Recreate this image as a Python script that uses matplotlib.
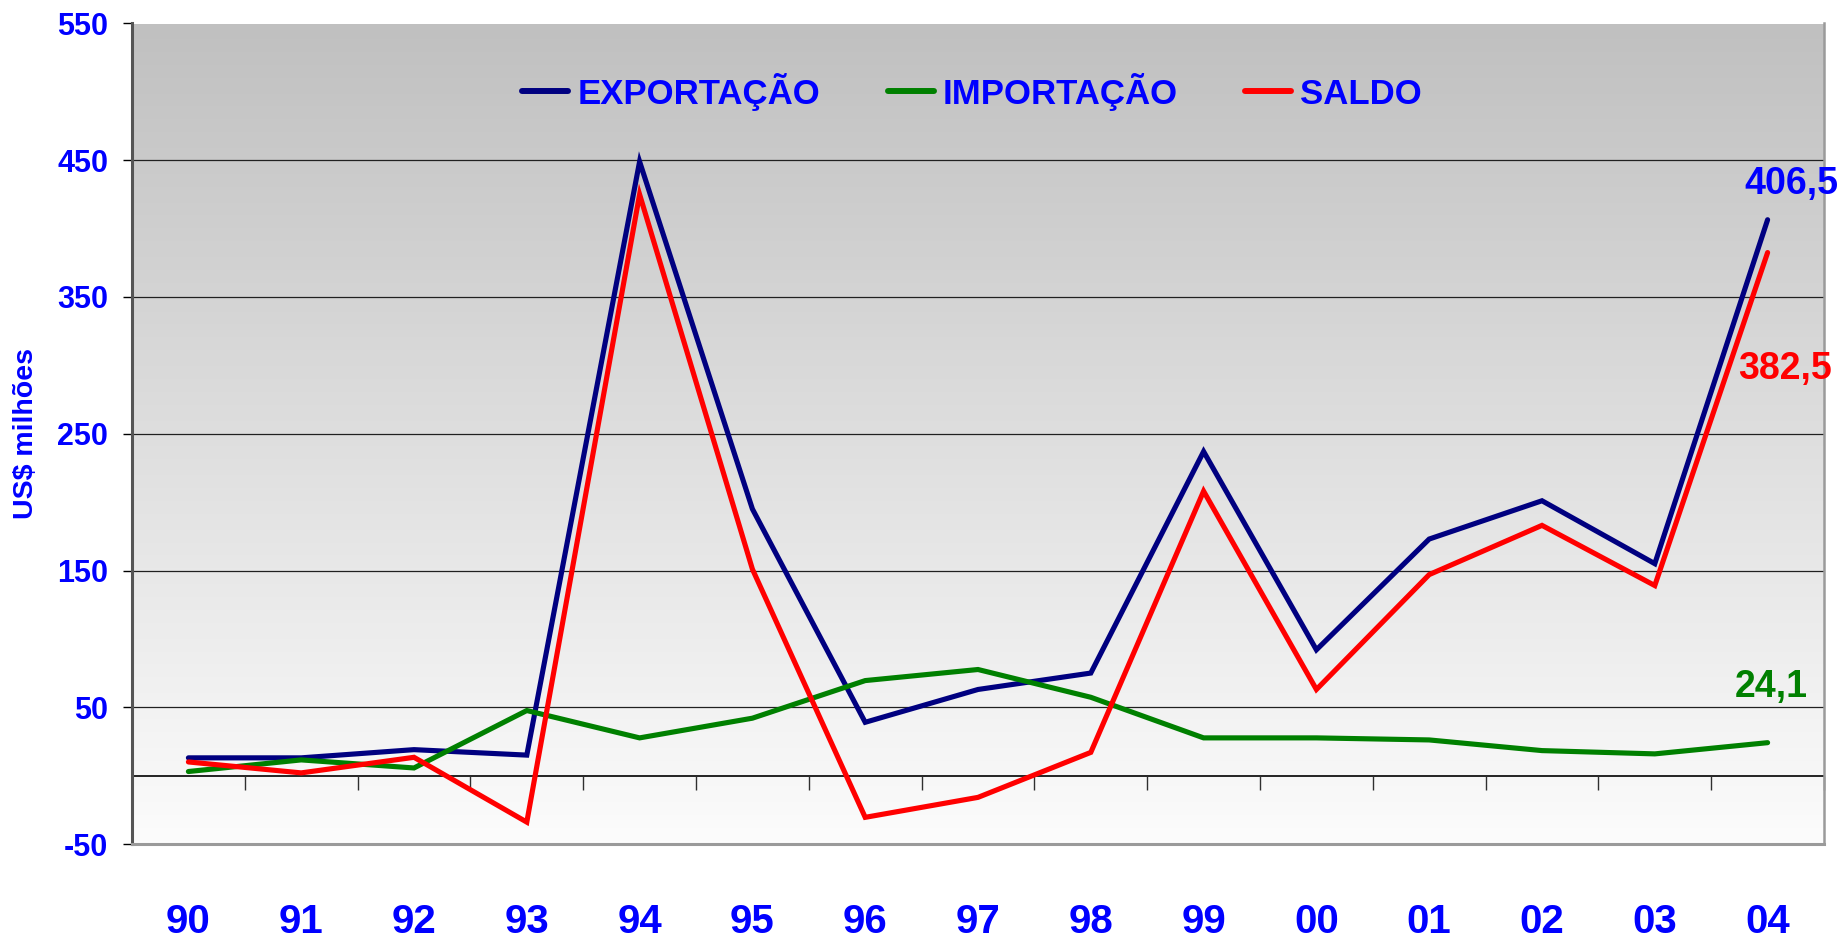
import numpy as np
import matplotlib
matplotlib.use("Agg")
import matplotlib.pyplot as plt
from matplotlib.transforms import blended_transform_factory

# ---- data ----
years = ["90", "91", "92", "93", "94", "95", "96", "97", "98", "99", "00", "01", "02", "03", "04"]
exportacao = [13, 13, 19, 15, 449, 195, 39, 63, 75, 237, 92, 173, 201, 155, 406.5]
importacao = [3, 11.5, 5.6, 47.6, 27.6, 42, 69.5, 77.6, 57.3, 27.6, 27.6, 26.1, 18.3, 15.9, 24.1]
saldo = [10, 2, 13.4, -34, 425, 151, -30.5, -15.9, 17, 208, 63, 147, 183, 139, 382.5]
series_names = ["EXPORTAÇÃO", "IMPORTAÇÃO", "SALDO"]
yticks = [-50, 50, 150, 250, 350, 450, 550]
last_labels = ["406,5", "24,1", "382,5"]

plt.rcParams['font.family'] = ['Liberation Sans', 'DejaVu Sans']

fig = plt.figure(figsize=(18.47, 9.42), dpi=100)
ax = fig.add_axes([132/1847, 1-844/942, (1824-132)/1847, (844-23.5)/942])

x = np.arange(len(years))
ax.set_xlim(-0.5, len(years) - 0.5)
ax.set_ylim(-50, 550)

# gradient background
grad = np.linspace(192, 252, 256)[:, None] / 255.0
img = np.dstack([grad, grad, grad])
ax.imshow(img, extent=[0, 1, 0, 1], transform=ax.transAxes, aspect='auto', zorder=0)

# grid lines
for v in yticks[1:-1]:
    ax.axhline(v, color='#202020', lw=0.9, zorder=1)
ax.axhline(0, color='black', lw=1.2, zorder=1)
ax.axhline(550, color='#808080', lw=1.2, zorder=1)

# category tick marks below the zero line
bounds = np.arange(len(years) + 1) - 0.5
ax.vlines(bounds, -10.5, 0, colors='#303030', lw=1.0, zorder=1, clip_on=False)

colors = ['#000080', '#008000', '#FF0000']
for vals, name, c in zip([exportacao, importacao, saldo], series_names, colors):
    ax.plot(x, vals, color=c, lw=3.7, label=name, zorder=3, solid_capstyle='round',
            solid_joinstyle='miter')

# end labels
offs = [(70.9, 25.7), (40, 46), (64.4, -126)]
for vals, lab, c, (dx, dy) in zip([exportacao, importacao, saldo], last_labels,
                                  ['#0000FF', '#008000', '#FF0000'], offs):
    ax.annotate(lab, xy=(x[-1], vals[-1]), xytext=(dx * 0.72, dy * 0.72),
                textcoords='offset points', ha='right', va='baseline',
                fontsize=27, fontweight='bold', color=c, annotation_clip=False, zorder=5)

# axes styling
ax.set_xticks([])
ax.set_yticks(yticks)
ax.set_yticklabels([str(v) for v in yticks], fontsize=22, fontweight='bold', color='#0000FF')
ax.tick_params(axis='y', length=9.3*0.72, width=1.0, color='black', pad=10.5)
ax.spines['top'].set_visible(False)
ax.spines['left'].set_color('#555555')
ax.spines['left'].set_linewidth(2.2)
ax.spines['bottom'].set_color('#9a9a9a')
ax.spines['bottom'].set_linewidth(2.2)
ax.spines['right'].set_color('#9a9a9a')
ax.spines['right'].set_linewidth(1.8)

# x category labels
trans = blended_transform_factory(ax.transData, ax.transAxes)
for xi, lab in zip(x, years):
    ax.text(xi, -0.095, lab, transform=trans, ha='center', va='center',
            fontsize=29, fontweight='bold', color='#0000FF')

# y label
ax.text(-0.0626, 0.5, "US$ milhões", transform=ax.transAxes, rotation=90,
        ha='center', va='center', fontsize=20.5, fontweight='bold', color='#0000FF')

# legend
leg = ax.legend(loc='center', bbox_to_anchor=(0.4965, 0.917), ncol=3, frameon=False,
                prop={'size': 25, 'weight': 'bold'}, labelcolor='#0000FF',
                handlelength=1.33, handletextpad=0.25, columnspacing=1.95)
for h in leg.get_lines():
    h.set_linewidth(4.3)

fig.savefig("out.png", dpi=100)
